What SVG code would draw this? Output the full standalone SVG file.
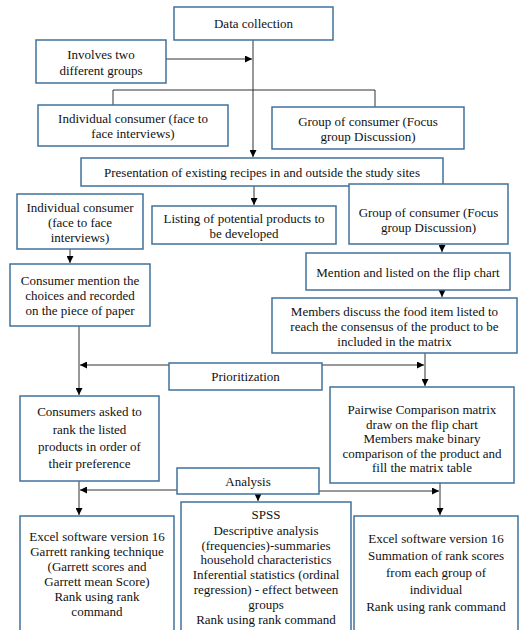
<svg xmlns="http://www.w3.org/2000/svg" width="520" height="630" viewBox="0 0 520 630">
  <style>
    .box { fill: #ffffff; stroke: #41719c; stroke-width: 1.5; }
    .lbl { font-family: "Liberation Serif", "Times New Roman", serif; font-size: 13px; fill: #111111; text-anchor: middle; }
    .ln { fill: none; stroke: #333333; stroke-width: 1; }
    .arr { fill: none; stroke: #333333; stroke-width: 1; marker-end: url(#ah); }
  </style>
  <defs>
    <marker id="ah" viewBox="0 0 10 10" refX="10" refY="5" markerWidth="7" markerHeight="7" markerUnits="userSpaceOnUse" orient="auto">
      <path d="M0,0 L10,5 L0,10 Z" fill="#000000"/>
    </marker>
  </defs>
  <rect width="520" height="630" fill="#ffffff"/>

  <!-- connectors -->
  <g id="connectors">
    <path class="arr" d="M253,40 V157"/>
    <path class="arr" d="M166,59 H252"/>
    <path class="ln" d="M113,105 V90 H375 V107"/>
    <path class="arr" d="M254,186 V205"/>
    <path class="arr" d="M70,249 V263"/>
    <path class="arr" d="M442,244 V252"/>
    <path class="arr" d="M442,290 V297"/>
    <path class="arr" d="M79,326 V395"/>
    <path class="arr" d="M425,353 V386"/>
    <path class="arr" d="M169,365 H80"/>
    <path class="arr" d="M322,365 H424"/>
    <path class="arr" d="M79,481 V515"/>
    <path class="arr" d="M440,483 V515"/>
    <path class="arr" d="M177,490 H80"/>
    <path class="arr" d="M319,491 H439"/>
    <path class="arr" d="M258,494 V501"/>
  </g>

  <g id="data-collection">
    <rect class="box" x="174" y="7" width="159" height="33"/>
    <text class="lbl" x="253.5" y="28">Data collection</text>
  </g>

  <g id="two-groups">
    <rect class="box" x="36" y="40" width="130" height="43"/>
    <text class="lbl" x="101" y="59">Involves two</text>
    <text class="lbl" x="101" y="75">different groups</text>
  </g>

  <g id="individual-1">
    <rect class="box" x="38" y="105" width="190" height="41"/>
    <text class="lbl" x="133" y="123">Individual consumer (face to</text>
    <text class="lbl" x="133" y="138">face interviews)</text>
  </g>

  <g id="group-1">
    <rect class="box" x="272" y="107" width="192" height="42"/>
    <text class="lbl" x="368" y="126">Group of consumer (Focus</text>
    <text class="lbl" x="368" y="141">group Discussion)</text>
  </g>

  <g id="presentation">
    <rect class="box" x="81" y="158" width="362" height="28"/>
    <text class="lbl" x="262" y="177">Presentation of existing recipes in and outside the study sites</text>
  </g>

  <g id="listing">
    <rect class="box" x="152" y="206" width="184" height="38"/>
    <text class="lbl" x="244" y="223">Listing of potential products to</text>
    <text class="lbl" x="244" y="238">be developed</text>
  </g>

  <g id="individual-2">
    <rect class="box" x="17" y="194" width="126" height="55"/>
    <text class="lbl" x="80" y="212">Individual consumer</text>
    <text class="lbl" x="80" y="227">(face to face</text>
    <text class="lbl" x="80" y="242">interviews)</text>
  </g>

  <g id="consumer-mention">
    <rect class="box" x="10" y="264" width="140" height="62"/>
    <text class="lbl" x="80" y="285">Consumer mention the</text>
    <text class="lbl" x="80" y="300">choices and recorded</text>
    <text class="lbl" x="80" y="315">on the piece of paper</text>
  </g>

  <g id="group-2">
    <rect class="box" x="349" y="184" width="159" height="60"/>
    <text class="lbl" x="428.5" y="217">Group of consumer (Focus</text>
    <text class="lbl" x="428.5" y="232">group Discussion)</text>
  </g>

  <g id="flip-chart">
    <rect class="box" x="306" y="253" width="204" height="37"/>
    <text class="lbl" x="408" y="277">Mention and listed on the flip chart</text>
  </g>

  <g id="members-discuss">
    <rect class="box" x="272" y="298" width="245" height="55"/>
    <text class="lbl" x="394.5" y="316">Members discuss the food item listed to</text>
    <text class="lbl" x="394.5" y="331">reach the consensus of the product to be</text>
    <text class="lbl" x="394.5" y="346">included in the matrix</text>
  </g>

  <g id="prioritization">
    <rect class="box" x="169" y="363" width="153" height="27"/>
    <text class="lbl" x="245.5" y="381">Prioritization</text>
  </g>

  <g id="consumers-rank">
    <rect class="box" x="20" y="396" width="139" height="85"/>
    <text class="lbl" x="89.5" y="416">Consumers asked to</text>
    <text class="lbl" x="89.5" y="434">rank the listed</text>
    <text class="lbl" x="89.5" y="451">products in order of</text>
    <text class="lbl" x="89.5" y="468">their preference</text>
  </g>

  <g id="pairwise">
    <rect class="box" x="330" y="387" width="184" height="96"/>
    <text class="lbl" x="422" y="414">Pairwise Comparison matrix</text>
    <text class="lbl" x="422" y="428.5">draw on the flip chart</text>
    <text class="lbl" x="422" y="443">Members make binary</text>
    <text class="lbl" x="422" y="457.5">comparison of the product and</text>
    <text class="lbl" x="422" y="472">fill the matrix table</text>
  </g>

  <g id="analysis">
    <rect class="box" x="177" y="468" width="142" height="26"/>
    <text class="lbl" x="248" y="486">Analysis</text>
  </g>

  <g id="excel-garrett">
    <rect class="box" x="20" y="516" width="154" height="120"/>
    <text class="lbl" x="97" y="541">Excel software version 16</text>
    <text class="lbl" x="97" y="556">Garrett ranking technique</text>
    <text class="lbl" x="97" y="571">(Garrett scores and</text>
    <text class="lbl" x="97" y="586">Garrett mean Score)</text>
    <text class="lbl" x="97" y="601">Rank using rank</text>
    <text class="lbl" x="97" y="616">command</text>
  </g>

  <g id="spss">
    <rect class="box" x="181" y="502" width="170" height="134"/>
    <text class="lbl" x="266" y="519">SPSS</text>
    <text class="lbl" x="266" y="535">Descriptive analysis</text>
    <text class="lbl" x="266" y="550">(frequencies)-summaries</text>
    <text class="lbl" x="266" y="564">household characteristics</text>
    <text class="lbl" x="266" y="579">Inferential statistics (ordinal</text>
    <text class="lbl" x="266" y="594">regression) - effect between</text>
    <text class="lbl" x="266" y="609">groups</text>
    <text class="lbl" x="266" y="624">Rank using rank command</text>
  </g>

  <g id="excel-summation">
    <rect class="box" x="354" y="516" width="164" height="120"/>
    <text class="lbl" x="436" y="543">Excel software version 16</text>
    <text class="lbl" x="436" y="560">Summation of rank scores</text>
    <text class="lbl" x="436" y="577">from each group of</text>
    <text class="lbl" x="436" y="594">individual</text>
    <text class="lbl" x="436" y="611">Rank using rank command</text>
  </g>
</svg>
